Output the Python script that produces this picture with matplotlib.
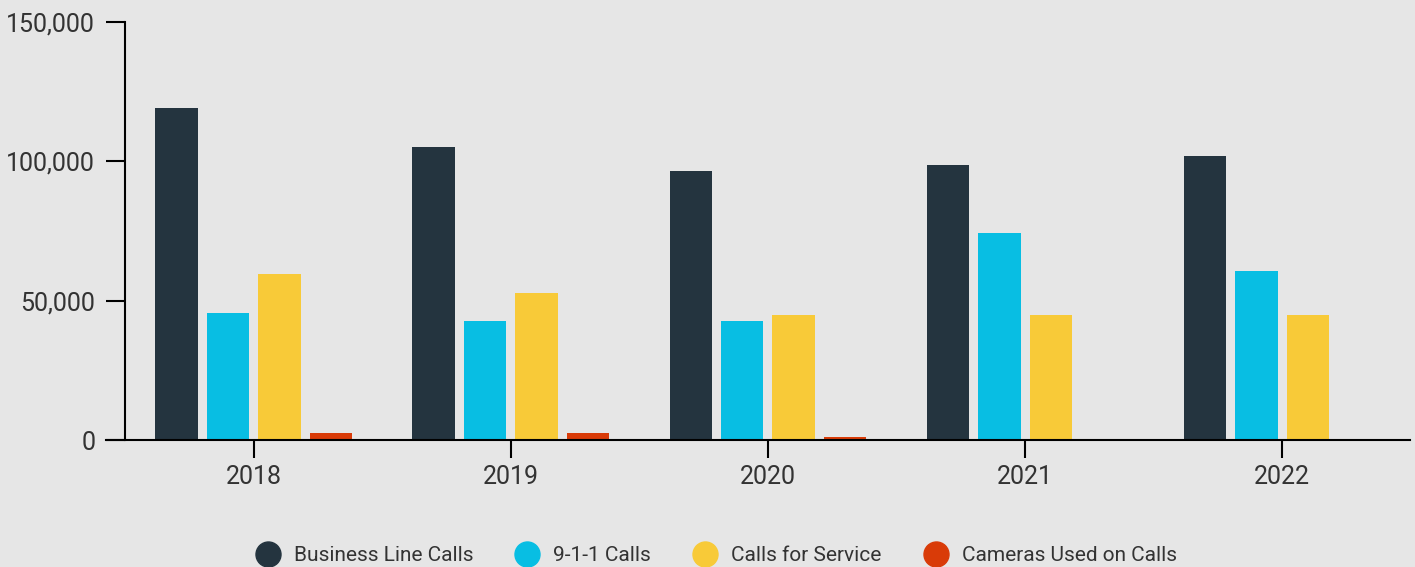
import matplotlib.pyplot as plt
from matplotlib.lines import Line2D
from matplotlib.ticker import FuncFormatter

years = ["2018", "2019", "2020", "2021", "2022"]
business_line = [119000, 105300, 96700, 98800, 101800]
calls_911 = [45700, 42700, 42800, 74400, 60700]
calls_for_service = [59400, 52800, 44900, 44900, 44900]
cameras = [2500, 2500, 1000, 0, 0]

series = [
    ("Business Line Calls", business_line, "#24343f"),
    ("9-1-1 Calls", calls_911, "#08bee3"),
    ("Calls for Service", calls_for_service, "#f8ca38"),
    ("Cameras Used on Calls", cameras, "#d93b08"),
]

bg = "#e6e6e6"
text_color = "#333333"
plt.rcParams["font.family"] = ["Roboto", "DejaVu Sans"]

fig = plt.figure(figsize=(14.15, 5.67), dpi=100, facecolor=bg)
ax = fig.add_axes([106 / 1415, 1 - 440 / 567, (1410 - 106) / 1415, (440 - 22) / 567])
ax.set_facecolor(bg)

x = list(range(len(years)))
offsets = [-0.3, -0.1, 0.1, 0.3]
width = 0.165
for (name, vals, color), off in zip(series, offsets):
    ax.bar([i + off for i in x], vals, width=width, color=color, label=name)

ax.set_xlim(-0.574, 4.497)
ax.set_ylim(0, 150000)
ax.set_yticks([0, 50000, 100000, 150000])
ax.yaxis.set_major_formatter(FuncFormatter(lambda v, p: f"{int(v):,}"))
ax.set_xticks(x)
ax.set_xticklabels(years)

for side in ("top", "right"):
    ax.spines[side].set_visible(False)
ax.spines["left"].set_position(("data", -0.5))
for side in ("left", "bottom"):
    ax.spines[side].set_linewidth(1.5)
    ax.spines[side].set_color("black")

ax.tick_params(axis="y", length=13.5, width=1.5, pad=8, labelsize=18, labelcolor=text_color)
ax.tick_params(axis="x", length=13, width=1.5, pad=5, labelsize=18, labelcolor=text_color)

handles = [
    Line2D([], [], marker="o", linestyle="none", markersize=18, markerfacecolor=c, markeredgecolor=c)
    for _, _, c in series
]
fig.legend(
    handles,
    [s[0] for s in series],
    loc="lower center",
    bbox_to_anchor=(0.503, -0.03),
    ncol=4,
    frameon=False,
    fontsize=15,
    labelcolor=text_color,
    handletextpad=0.25,
    columnspacing=1.6,
)

fig.savefig("out.png", dpi=100, facecolor=bg)
